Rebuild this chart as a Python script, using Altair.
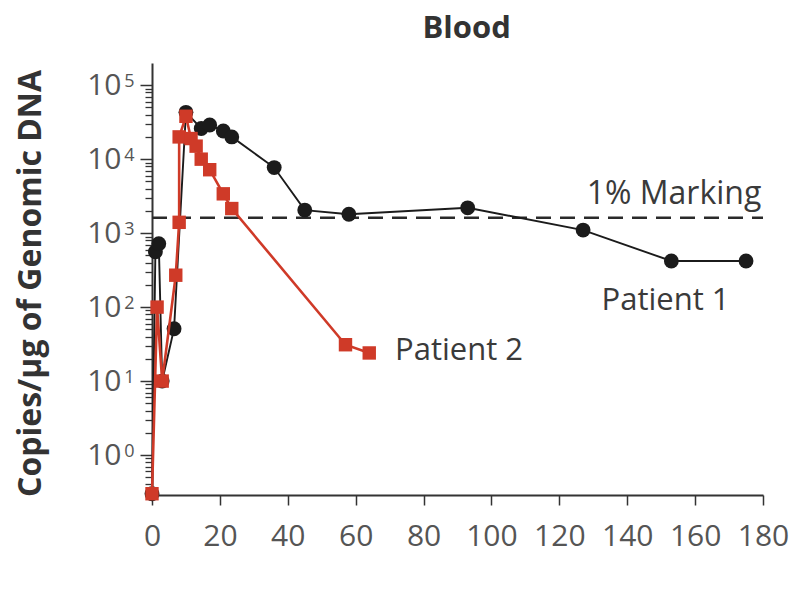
import altair as alt
import pandas as pd

# ---------------- data ----------------
chart_title = "Blood"
y_title = "Copies/μg of Genomic DNA"

p1_day = [0, 1, 2, 3, 6.5, 10, 14.5, 17, 21, 23.5, 36, 45, 58, 93, 127, 153, 175]
p1_copies = [0.3, 560, 720, 10, 51, 43000, 26000, 29000, 24000, 20000, 7700, 2050, 1800, 2200, 1100, 420, 420]

p2_day = [0, 1.5, 3, 7, 8, 8, 10, 11.5, 13, 14.5, 17, 21, 23.5, 57, 64]
p2_copies = [0.3, 100, 10, 270, 1400, 20000, 38000, 19000, 15000, 10000, 7200, 3400, 2150, 31, 24]

marking_level = 1620
marking_label = "1% Marking"
p1_label = "Patient 1"
p2_label = "Patient 2"

x_ticks = [0, 20, 40, 60, 80, 100, 120, 140, 160, 180]
y_major = [1, 10, 100, 1000, 10000, 100000]
y_minor = [m * 10 ** e for e in range(-1, 5) for m in range(2, 10) if m * 10 ** e >= 0.3] + [200000]

# ---------------- styling ----------------
FONT = "Open Sans"
BLACK = "#1b1b1b"
RED = "#cf3a28"
AXIS = "#333333"
LABEL = "#555555"
TEXT = "#3a3a3a"
Y_DOMAIN = [10 ** -0.54, 10 ** 5.3]

df1 = pd.DataFrame({"day": p1_day, "copies": p1_copies, "order": list(range(len(p1_day)))})
df2 = pd.DataFrame({"day": p2_day, "copies": p2_copies, "order": list(range(len(p2_day)))})


def yscale():
    return alt.Scale(type="log", domain=Y_DOMAIN, nice=False)


xscale = alt.Scale(domain=[0, 180], nice=False, zero=False)
xaxis = alt.Axis(values=x_ticks, tickSize=10, labelPadding=16, labelFontSize=30,
                 labelColor=LABEL, labelFont=FONT, domainColor=AXIS, domainWidth=2,
                 tickColor=AXIS, tickWidth=1.5, grid=False, title=None, labelFlush=False)

yaxis_major = alt.Axis(values=y_major, labelExpr="'10'", orient="left", tickSize=12,
                       tickWidth=1.5, tickColor=AXIS, domainColor=AXIS, domainWidth=2,
                       labelPadding=19, labelFontSize=30, labelFont=FONT, labelColor=LABEL,
                       labelBaseline="middle", grid=False, title=y_title,
                       titleFont=FONT, titleFontSize=32, titleFontWeight="bold",
                       titleColor="#333333", titleX=-112, titleY=220, titleAngle=-90,
                       titleAlign="center", titleBaseline="alphabetic")

X = alt.X("day:Q", scale=xscale, axis=xaxis)
Y = alt.Y("copies:Q", scale=yscale(), axis=yaxis_major)

line1 = alt.Chart(df1).mark_line(color=BLACK, strokeWidth=1.9).encode(x=X, y=Y, order="order:Q")
pts1 = alt.Chart(df1).mark_point(shape="circle", filled=True, color=BLACK, size=220, opacity=1).encode(x=X, y=Y)
line2 = alt.Chart(df2).mark_line(color=RED, strokeWidth=2.6).encode(x=X, y=Y, order="order:Q")
pts2 = alt.Chart(df2).mark_point(shape="square", filled=True, color=RED, size=180, opacity=1).encode(x=X, y=Y)

rule = alt.Chart(pd.DataFrame({"level": [marking_level]})).mark_rule(
    color="#2a2a2a", strokeWidth=2.5, strokeDash=[15, 9]).encode(
    x=alt.datum(0), x2=alt.datum(180),
    y=alt.Y("level:Q", scale=yscale(), axis=yaxis_major))


def label(text, x, y, align, size=31, weight="normal", color=TEXT, dy=0):
    return alt.Chart(pd.DataFrame({"text": [text]})).mark_text(
        font=FONT, fontSize=size, fontWeight=weight, color=color,
        align=align, baseline="alphabetic", dy=dy).encode(
        x=alt.datum(x), y=alt.YDatum(y, scale=yscale(), axis=yaxis_major),
        text="text:N")


txt_mark = label(marking_label, 179.5, marking_level, "right", size=32, dy=-14)
txt_p1 = label(p1_label, 151.3, 91, "center")
txt_p2 = label(p2_label, 71.6, 19.2, "left")
txt_title = label(chart_title, 92.7, 10 ** 5.635, "center", size=31, weight="bold", color="#333333")

data_layer = alt.layer(rule, line1, pts1, line2, pts2, txt_mark, txt_p1, txt_p2, txt_title)

# minor ticks of the log axis
minor_df = pd.DataFrame({"v": y_minor})
minor_layer = alt.Chart(minor_df).mark_point(opacity=0).encode(
    y=alt.Y("v:Q", scale=yscale(),
            axis=alt.Axis(values=y_minor, orient="left", labels=False, domain=False,
                          tickSize=7, tickWidth=1.3, tickColor=AXIS, grid=False, title=None)))

# superscript exponents of the tick labels
sup_df = pd.DataFrame({"v": y_major})
sup_layer = alt.Chart(sup_df).mark_point(opacity=0).encode(
    y=alt.Y("v:Q", scale=yscale(),
            axis=alt.Axis(values=y_major, orient="left", labelExpr="'' + round(log(datum.value) / LN10)",
                          domain=False, ticks=False, tickSize=0, labelPadding=18,
                          labelFontSize=18, labelFont=FONT, labelColor=LABEL,
                          labelBaseline="middle", labelOffset=-4, grid=False, title=None)))

chart = alt.layer(data_layer, minor_layer, sup_layer).resolve_scale(y="independent").properties(
    width=611, height=432,
    autosize=alt.AutoSizeParams(type="none"),
    padding={"left": 144, "top": 55, "right": 26, "bottom": 100},
).configure(background="white", view=alt.ViewConfig(stroke=None))

chart.save("out.html", embed_options={"renderer": "svg", "actions": False})
